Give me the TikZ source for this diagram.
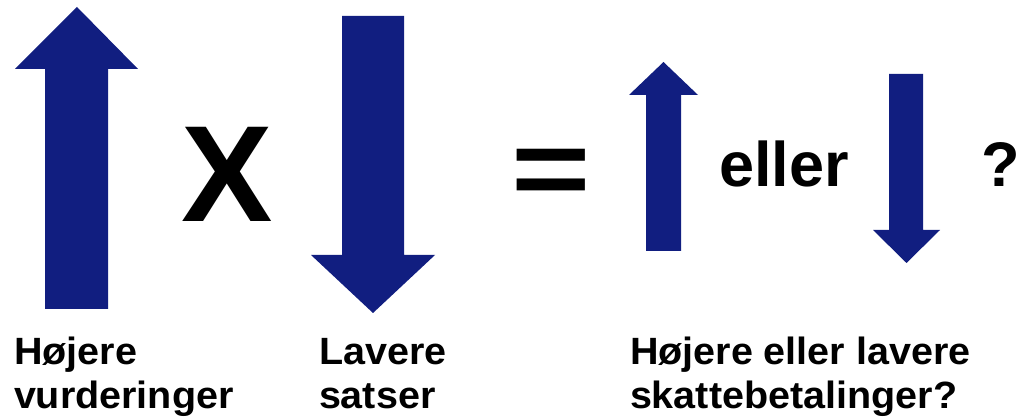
\documentclass[tikz,border=0pt]{standalone}
\usepackage{fontspec}
\setmainfont{Liberation Sans}
\newfontfamily\lblfont[FakeStretch=1.04]{Liberation Sans}
\definecolor{navy}{RGB}{17,30,128}
\tikzset{
  arr/.style={fill=navy, draw=none},
  sym/.style={inner sep=0pt, outer sep=0pt, font=\bfseries},
  lbl/.style={inner sep=0pt, outer sep=0pt, align=left, anchor=base west,
    font=\lblfont\bfseries\fontsize{38}{44}\selectfont},
}
\begin{document}
\begin{tikzpicture}[x=1pt,y=-1pt]
\useasboundingbox (0,0) rectangle (1023,419);
% arrows
\path[arr] (45,309) -- (45,69) -- (15,69) -- (77,7) -- (138,69) -- (108,69) -- (108,309) -- cycle;
\path[arr] (342,16) -- (404,16) -- (404,255) -- (435,255) -- (373,313) -- (311,255) -- (342,255) -- cycle;
\path[arr] (646,251) -- (646,95) -- (629,95) -- (663.5,62) -- (698,95) -- (681,95) -- (681,251) -- cycle;
\path[arr] (889,74) -- (923,74) -- (923,230) -- (940,230) -- (906.5,263) -- (873,230) -- (889,230) -- cycle;
% symbols
\node[sym, anchor=base west, font=\bfseries\fontsize{137}{137}\selectfont] (times) at (181,222) {X};
\node[sym, anchor=base, font=\bfseries\fontsize{136}{136}\selectfont] (eq) at (551,206.6) {\scalebox{1}[0.81]{=}};
\node[sym, anchor=base west, font=\bfseries\fontsize{63}{63}\selectfont] (eller) at (719,187) {eller};
\node[sym, anchor=base west, font=\bfseries\fontsize{63}{63}\selectfont] (q) at (981,187) {?};
% labels
\node[lbl] (l1) at (14,409) {Højere\\vurderinger};
\node[lbl] (l2) at (319,409) {Lavere\\satser};
\node[lbl] (l3) at (630,409) {Højere eller lavere\\skattebetalinger?};
\end{tikzpicture}
\end{document}
